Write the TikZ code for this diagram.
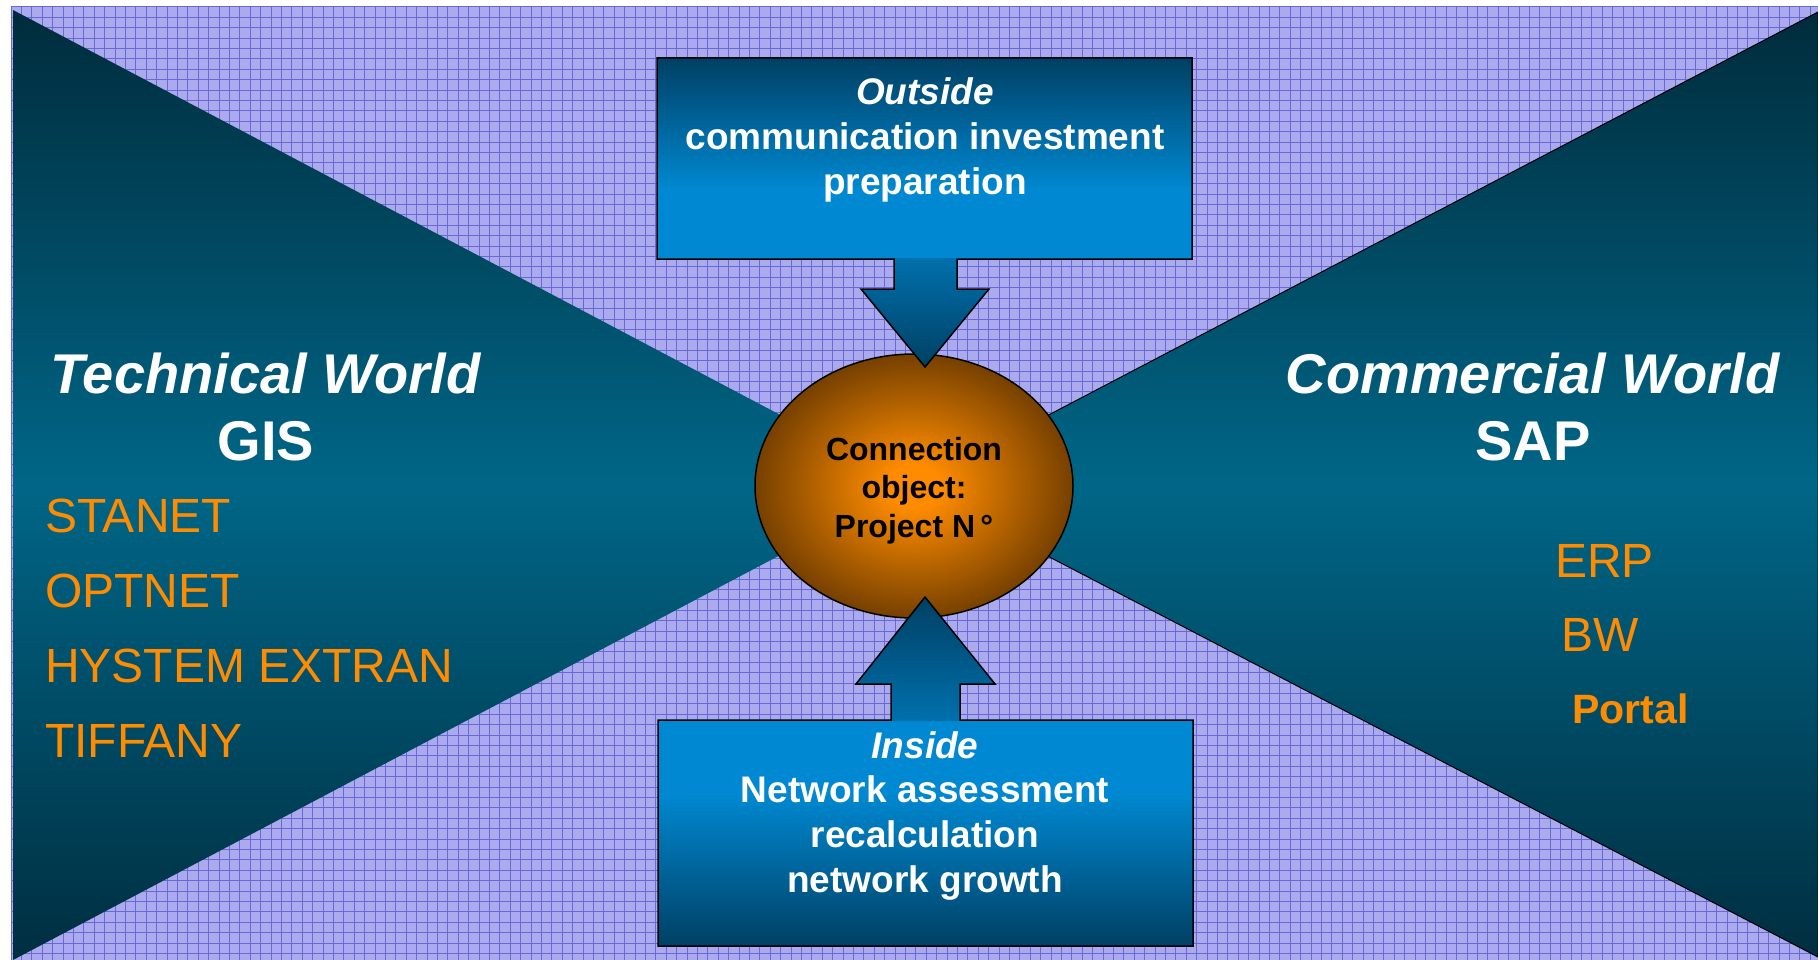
\documentclass[tikz,border=0pt]{standalone}
\usepackage{fontspec}
\setmainfont{Liberation Sans}
\usetikzlibrary{shapes.geometric}

\definecolor{paper}{RGB}{170,170,236}
\definecolor{gridline}{RGB}{104,104,218}
\definecolor{worldtop}{RGB}{0,44,60}
\definecolor{worldmid}{RGB}{0,102,135}
\definecolor{worldbot}{RGB}{0,46,64}
\definecolor{boxdark}{RGB}{0,64,100}
\definecolor{boxlight}{RGB}{0,137,210}
\definecolor{arrowlight}{RGB}{0,112,172}
\definecolor{coreinner}{RGB}{255,140,0}
\definecolor{coreouter}{RGB}{118,64,0}
\definecolor{itemorange}{RGB}{255,140,0}

% vertical fades for the two call-out boxes (25bp = bottom edge, 75bp = top edge)
\pgfdeclareverticalshading{fadeup}{100bp}{color(0bp)=(boxlight); color(42bp)=(boxlight); color(75bp)=(boxdark); color(100bp)=(boxdark)}
\pgfdeclareverticalshading{fadedown}{100bp}{color(0bp)=(boxdark); color(25bp)=(boxdark); color(59bp)=(boxlight); color(100bp)=(boxlight)}
% glow of the connection object (25bp = rim)
\pgfdeclareradialshading{coreglow}{\pgfpoint{0bp}{0bp}}{color(0bp)=(coreinner); color(4bp)=(coreinner); color(25bp)=(coreouter); color(50bp)=(coreouter)}

\tikzset{
  worldtitle/.style={text=white, font=\fontsize{56}{67.5}\selectfont\bfseries, anchor=base, inner sep=0pt},
  item/.style={text=itemorange, font=\fontsize{48}{75.3}\selectfont, anchor=base west, inner sep=0pt},
  boxtext/.style={text=white, font=\fontsize{37}{44.7}\selectfont\bfseries, anchor=base, inner sep=0pt},
  coretext/.style={text=black, font=\fontsize{32}{38.5}\selectfont\bfseries, anchor=base, inner sep=0pt},
  outline/.style={draw=black, line width=1.5pt, line join=miter},
  world/.style={top color=worldtop, bottom color=worldbot, middle color=worldmid},
}

\begin{document}
\begin{tikzpicture}[x=1pt, y=-1pt]
\useasboundingbox (0,0) rectangle (1818,960);

% patterned backdrop
\begin{scope}
  \clip (11,7) rectangle (1818,960);
  \fill[paper] (11,7) rectangle (1818,960);
  \foreach \i in {0,...,174}
    \draw[gridline, line width=1pt] ({11+\i*10.4},7) -- ({11+\i*10.4},960);
  \foreach \j in {0,...,92}
    \draw[gridline, line width=1pt] (11,{7+\j*10.4}) -- (1818,{7+\j*10.4});
\end{scope}

% the two worlds
\shade[world] (13,10) -- (913,485) -- (13,960) -- cycle;
\shadedraw[world, draw=black, line width=1pt] (1818,12) -- (913,486) -- (1818,957) -- cycle;

% connection object
\node[ellipse, outline, minimum width=318pt, minimum height=264pt, inner sep=0pt,
      shading=coreglow] (core) at (914,486) {};
\node[coretext] (core-text) at (914,460)
  {\begin{tabular}[t]{@{}c@{}}Connection\\object:\\Project N\,°\end{tabular}};

% outside call-out pointing down
\shade[shading=fadeup] (657,58) rectangle (1192,259);
\shade[top color=arrowlight, bottom color=boxdark]
  (894,258) -- (957,258) -- (957,289) -- (989,289) -- (925,367) -- (861,289) -- (894,289) -- cycle;
\draw[outline] (657,58) -- (1192,58) -- (1192,259) -- (957,259) -- (957,289) -- (989,289)
  -- (925,367) -- (861,289) -- (894,289) -- (894,259) -- (657,259) -- cycle;
\node[boxtext] (outside) at (925,105)
  {\begin{tabular}[t]{@{}c@{}}\textit{Outside}\\communication investment\\preparation\end{tabular}};

% inside call-out pointing up
\shade[shading=fadedown] (658,720) rectangle (1193,946);
\shade[top color=boxdark, bottom color=arrowlight]
  (925,597) -- (995,684) -- (960,684) -- (960,721) -- (891,721) -- (891,684) -- (856,684) -- cycle;
\draw[outline] (658,720) -- (891,720) -- (891,684) -- (856,684) -- (925,597) -- (995,684)
  -- (960,684) -- (960,720) -- (1193,720) -- (1193,946) -- (658,946) -- cycle;
\node[boxtext] (inside) at (925,758)
  {\begin{tabular}[t]{@{}c@{}}\textit{Inside}\\Network assessment\\recalculation\\network growth\end{tabular}};

% technical world
\node[worldtitle] (tech-title) at (266,393)
  {\begin{tabular}[t]{@{}c@{}}\textit{Technical World}\\GIS\end{tabular}};
\node[item] (tech-tools) at (45,532)
  {\begin{tabular}[t]{@{}l@{}}STANET\\OPTNET\\HYSTEM EXTRAN\\TIFFANY\end{tabular}};

% commercial world
\node[worldtitle] (comm-title) at (1533,393)
  {\begin{tabular}[t]{@{}c@{}}\textit{Commercial World}\\SAP\end{tabular}};
\node[item] (erp) at (1555,577) {ERP};
\node[item] (bw) at (1561,651) {BW};
\node[item, font=\fontsize{41}{50}\selectfont\bfseries] (portal) at (1572,723) {Portal};
\end{tikzpicture}
\end{document}
